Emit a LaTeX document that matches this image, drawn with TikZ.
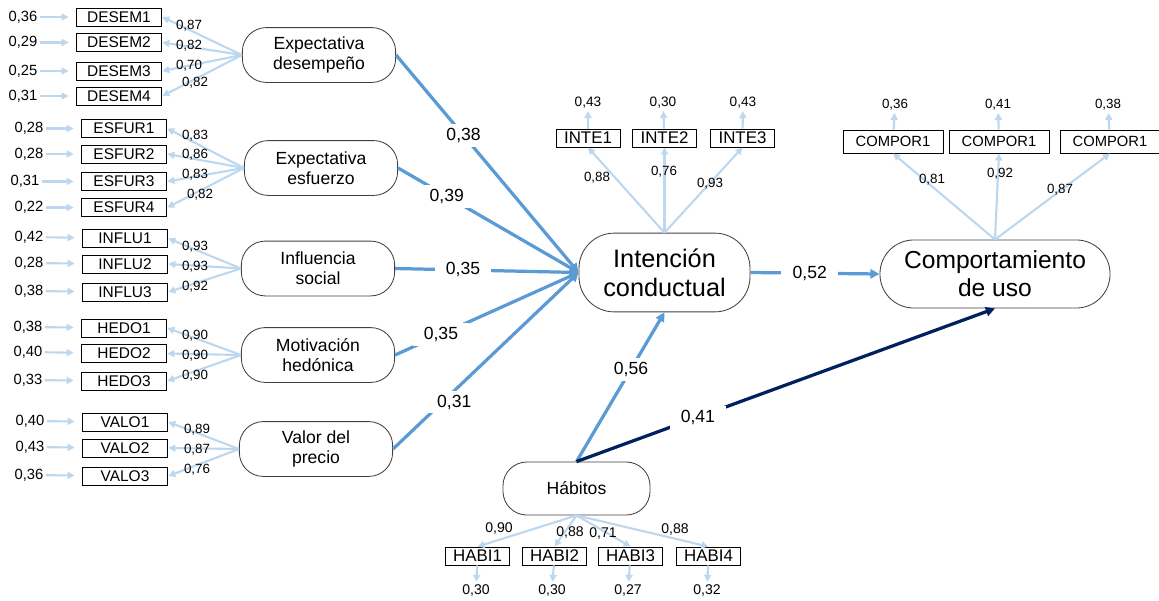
\documentclass[tikz,border=0pt]{standalone}
\usepackage{fontspec}
\setmainfont{Liberation Sans}
\usetikzlibrary{arrows.meta}

\definecolor{loadblue}{RGB}{189,215,238}
\definecolor{pathblue}{RGB}{91,155,213}
\definecolor{habitnavy}{RGB}{0,32,96}
\definecolor{latentgray}{RGB}{64,64,64}

\begin{document}
\begin{tikzpicture}[x=0.025cm, y=-0.025cm,
    latent/.style={draw=latentgray, line width=0.6pt, rounded corners=17pt, minimum width=109pt, minimum height=39pt, inner sep=0pt, align=center, font=\fontsize{12.5}{14.2}\selectfont},
    ind/.style={draw=black, line width=0.6pt, minimum width=61pt, minimum height=12.8pt, inner sep=0pt, font=\fontsize{11}{12}\selectfont},
    num/.style={inner sep=1.5pt, font=\fontsize{10.5}{11}\selectfont},
    lbl/.style={inner sep=0pt, font=\fontsize{9.5}{10}\selectfont},
    load/.style={draw=loadblue, line width=1.5pt, -{Triangle[length=5pt,width=5pt]}},
    err/.style={load, shorten >=5pt},
    effect/.style={draw=pathblue, line width=2.3pt, -{Triangle[length=6.5pt,width=6.5pt]}},
    plbl/.style={fill=white, inner xsep=8pt, inner ysep=3pt, font=\fontsize{12.5}{14}\selectfont}]
    \useasboundingbox (0,0) rectangle (1159,600);

    % Expectativa desempeno
    \node[latent] (ed) at (319,55) {Expectativa\\desempeño};
    \node[ind] (desem1) at (119,17) {DESEM1};
    \node[ind] (desem2) at (119,42.5) {DESEM2};
    \node[ind] (desem3) at (119,71) {DESEM3};
    \node[ind] (desem4) at (119,96) {DESEM4};
    \node[num] (edesem1) at (23,17) {0,36};
    \node[num] (edesem2) at (23,42.5) {0,29};
    \node[num] (edesem3) at (23,71) {0,25};
    \node[num] (edesem4) at (23,96) {0,31};
    \draw[load] (ed.west) -- (desem1.east);
    \draw[load] (ed.west) -- (desem2.east);
    \draw[load] (ed.west) -- (desem3.east);
    \draw[load] (ed.west) -- (desem4.east);
    \draw[err] (edesem1) -- (desem1);
    \draw[err] (edesem2) -- (desem2);
    \draw[err] (edesem3) -- (desem3);
    \draw[err] (edesem4) -- (desem4);
    \node[lbl] (ldesem1) at (189,26) {0,87};
    \node[lbl] (ldesem2) at (189,46) {0,82};
    \node[lbl] (ldesem3) at (189,66) {0,70};
    \node[lbl] (ldesem4) at (195,83) {0,82};

    % Expectativa esfuerzo
    \node[latent] (ee) at (321,168) {Expectativa\\esfuerzo};
    \node[ind] (esfur1) at (124,128.5) {ESFUR1};
    \node[ind] (esfur2) at (124,154) {ESFUR2};
    \node[ind] (esfur3) at (124,181.5) {ESFUR3};
    \node[ind] (esfur4) at (124,207.5) {ESFUR4};
    \node[num] (eesfur1) at (29,128.5) {0,28};
    \node[num] (eesfur2) at (29,154) {0,28};
    \node[num] (eesfur3) at (25,181.5) {0,31};
    \node[num] (eesfur4) at (29,207.5) {0,22};
    \draw[load] (ee.west) -- (esfur1.east);
    \draw[load] (ee.west) -- (esfur2.east);
    \draw[load] (ee.west) -- (esfur3.east);
    \draw[load] (ee.west) -- (esfur4.east);
    \draw[err] (eesfur1) -- (esfur1);
    \draw[err] (eesfur2) -- (esfur2);
    \draw[err] (eesfur3) -- (esfur3);
    \draw[err] (eesfur4) -- (esfur4);
    \node[lbl] (lesfur1) at (195,136) {0,83};
    \node[lbl] (lesfur2) at (195,155) {0,86};
    \node[lbl] (lesfur3) at (195,175) {0,83};
    \node[lbl] (lesfur4) at (200,195) {0,82};

    % Influencia social
    \node[latent] (is) at (318,268.5) {Influencia\\social};
    \node[ind] (influ1) at (125,238.5) {INFLU1};
    \node[ind] (influ2) at (125,264) {INFLU2};
    \node[ind] (influ3) at (125,292) {INFLU3};
    \node[num] (einflu1) at (29,237) {0,42};
    \node[num] (einflu2) at (29,263) {0,28};
    \node[num] (einflu3) at (29,291) {0,38};
    \draw[load] (is.west) -- (influ1.east);
    \draw[load] (is.west) -- (influ2.east);
    \draw[load] (is.west) -- (influ3.east);
    \draw[err] (einflu1) -- (influ1);
    \draw[err] (einflu2) -- (influ2);
    \draw[err] (einflu3) -- (influ3);
    \node[lbl] (linflu1) at (195,247) {0,93};
    \node[lbl] (linflu2) at (195,267) {0,93};
    \node[lbl] (linflu3) at (195,287) {0,92};

    % Motivacion hedonica
    \node[latent] (mh) at (318,355) {Motivación\\hedónica};
    \node[ind] (hedo1) at (124,328) {HEDO1};
    \node[ind] (hedo2) at (124,353.5) {HEDO2};
    \node[ind] (hedo3) at (124,381) {HEDO3};
    \node[num] (ehedo1) at (28,327) {0,38};
    \node[num] (ehedo2) at (28,352) {0,40};
    \node[num] (ehedo3) at (28,380) {0,33};
    \draw[load] (mh.west) -- (hedo1.east);
    \draw[load] (mh.west) -- (hedo2.east);
    \draw[load] (mh.west) -- (hedo3.east);
    \draw[err] (ehedo1) -- (hedo1);
    \draw[err] (ehedo2) -- (hedo2);
    \draw[err] (ehedo3) -- (hedo3);
    \node[lbl] (lhedo1) at (195,336) {0,90};
    \node[lbl] (lhedo2) at (195,356) {0,90};
    \node[lbl] (lhedo3) at (195,376) {0,90};

    % Valor del precio
    \node[latent] (vp) at (316,449) {Valor del\\precio};
    \node[ind] (valo1) at (125,422) {VALO1};
    \node[ind] (valo2) at (125,448) {VALO2};
    \node[ind] (valo3) at (125,476) {VALO3};
    \node[num] (evalo1) at (30,421) {0,40};
    \node[num] (evalo2) at (30,447) {0,43};
    \node[num] (evalo3) at (29,475) {0,36};
    \draw[load] (vp.west) -- (valo1.east);
    \draw[load] (vp.west) -- (valo2.east);
    \draw[load] (vp.west) -- (valo3.east);
    \draw[err] (evalo1) -- (valo1);
    \draw[err] (evalo2) -- (valo2);
    \draw[err] (evalo3) -- (valo3);
    \node[lbl] (lvalo1) at (197,430) {0,89};
    \node[lbl] (lvalo2) at (197,450) {0,87};
    \node[lbl] (lvalo3) at (197,470) {0,76};

    % Intencion conductual
    \node[latent, rounded corners=25pt, minimum width=121.6pt, minimum height=56pt, font=\fontsize{18}{20.6}\selectfont] (ic) at (664.5,272.5) {Intención\\conductual};
    \node[ind, minimum width=45.5pt, font=\fontsize{12}{13}\selectfont] (inte1) at (588,138) {INTE1};
    \node[ind, minimum width=45.5pt, font=\fontsize{12}{13}\selectfont] (inte2) at (664.5,138) {INTE2};
    \node[ind, minimum width=45.5pt, font=\fontsize{12}{13}\selectfont] (inte3) at (742.5,138) {INTE3};
    \node[num, font=\fontsize{9.7}{10}\selectfont] (einte1) at (588,103) {0,43};
    \node[num, font=\fontsize{9.7}{10}\selectfont] (einte2) at (663,103) {0,30};
    \node[num, font=\fontsize{9.7}{10}\selectfont] (einte3) at (743,103) {0,43};
    \draw[load] (ic.north) -- (inte1.south);
    \draw[load] (ic.north) -- (inte2.south);
    \draw[load] (ic.north) -- (inte3.south);
    \draw[load] (inte1) -- (einte1);
    \draw[load] (inte2) -- (einte2);
    \draw[load] (inte3) -- (einte3);
    \node[lbl] (linte1) at (597,178) {0,88};
    \node[lbl] (linte2) at (664,172) {0,76};
    \node[lbl] (linte3) at (710,184) {0,93};

    % Comportamiento de uso
    \node[latent, rounded corners=24pt, minimum width=163.6pt, minimum height=48.4pt, font=\fontsize{17.5}{20}\selectfont] (cu) at (995,274) {Comportamiento\\de uso};
    \node[ind, minimum width=71pt, minimum height=16.4pt, font=\fontsize{10.5}{11}\selectfont] (compor1) at (893,141.5) {COMPOR1};
    \node[ind, minimum width=71pt, minimum height=16.4pt, font=\fontsize{10.5}{11}\selectfont] (compor2) at (999,141.5) {COMPOR1};
    \node[ind, minimum width=71pt, minimum height=16.4pt, font=\fontsize{10.5}{11}\selectfont] (compor3) at (1110,141.5) {COMPOR1};
    \node[num, font=\fontsize{9.5}{10}\selectfont] (ecompor1) at (895,105) {0,36};
    \node[num, font=\fontsize{9.5}{10}\selectfont] (ecompor2) at (998,105) {0,41};
    \node[num, font=\fontsize{9.5}{10}\selectfont] (ecompor3) at (1108,105) {0,38};
    \draw[load] (cu.north) -- (compor1.south);
    \draw[load] (cu.north) -- (compor2.south);
    \draw[load] (cu.north) -- (compor3.south);
    \draw[load] (compor1) -- (ecompor1);
    \draw[load] (compor2) -- (ecompor2);
    \draw[load] (compor3) -- (ecompor3);
    \node[lbl] (lcompor1) at (932,180) {0,81};
    \node[lbl] (lcompor2) at (1000,174) {0,92};
    \node[lbl] (lcompor3) at (1060,190) {0,87};

    % Habitos
    \node[latent, minimum width=104.6pt, minimum height=37.7pt] (hab) at (576.5,488.5) {Hábitos};
    \node[ind, minimum width=45.5pt, font=\fontsize{12}{13}\selectfont] (habi1) at (477.5,556) {HABI1};
    \node[ind, minimum width=45.5pt, font=\fontsize{12}{13}\selectfont] (habi2) at (554.5,556) {HABI2};
    \node[ind, minimum width=45.5pt, font=\fontsize{12}{13}\selectfont] (habi3) at (630.5,556) {HABI3};
    \node[ind, minimum width=45.5pt, font=\fontsize{12}{13}\selectfont] (habi4) at (708.5,556) {HABI4};
    \node[num, font=\fontsize{10}{11}\selectfont] (ehabi1) at (476,590) {0,30};
    \node[num, font=\fontsize{10}{11}\selectfont] (ehabi2) at (552,590) {0,30};
    \node[num, font=\fontsize{10}{11}\selectfont] (ehabi3) at (628,590) {0,27};
    \node[num, font=\fontsize{10}{11}\selectfont] (ehabi4) at (707,590) {0,32};
    \draw[load] (hab.south) -- (habi1.north);
    \draw[load] (hab.south) -- (habi2.north);
    \draw[load] (hab.south) -- (habi3.north);
    \draw[load] (hab.south) -- (habi4.north);
    \draw[load] (habi1) -- (ehabi1);
    \draw[load] (habi2) -- (ehabi2);
    \draw[load] (habi3) -- (ehabi3);
    \draw[load] (habi4) -- (ehabi4);
    \node[lbl, font=\fontsize{10}{11}\selectfont] (lhabi1) at (499,528) {0,90};
    \node[lbl, font=\fontsize{10}{11}\selectfont] (lhabi2) at (570,532) {0,88};
    \node[lbl, font=\fontsize{10}{11}\selectfont] (lhabi3) at (603,533) {0,71};
    \node[lbl, font=\fontsize{10}{11}\selectfont] (lhabi4) at (675,529) {0,88};

    % Structural paths
    \draw[effect] (ed.east) -- node[plbl, pos=0.37] {0,38} (ic.west);
    \draw[effect] (ee.east) -- node[plbl, pos=0.27] {0,39} (ic.west);
    \draw[effect] (is.east) -- node[plbl, pos=0.37] {0,35} (ic.west);
    \draw[effect] (mh.east) -- node[plbl, pos=0.25] {0,35} (ic.west);
    \draw[effect] (vp.east) -- node[plbl, pos=0.33, yshift=-8pt] {0,31} (ic.west);
    \draw[effect] (ic.east) -- node[plbl, pos=0.46] {0,52} (cu.west);
    \draw[effect] (hab.north) -- node[plbl, pos=0.62] {0,56} (ic.south);
    \draw[effect, draw=habitnavy] (hab.north) -- node[plbl, pos=0.29] {0,41} (cu.south);
  \end{tikzpicture}
\end{document}
